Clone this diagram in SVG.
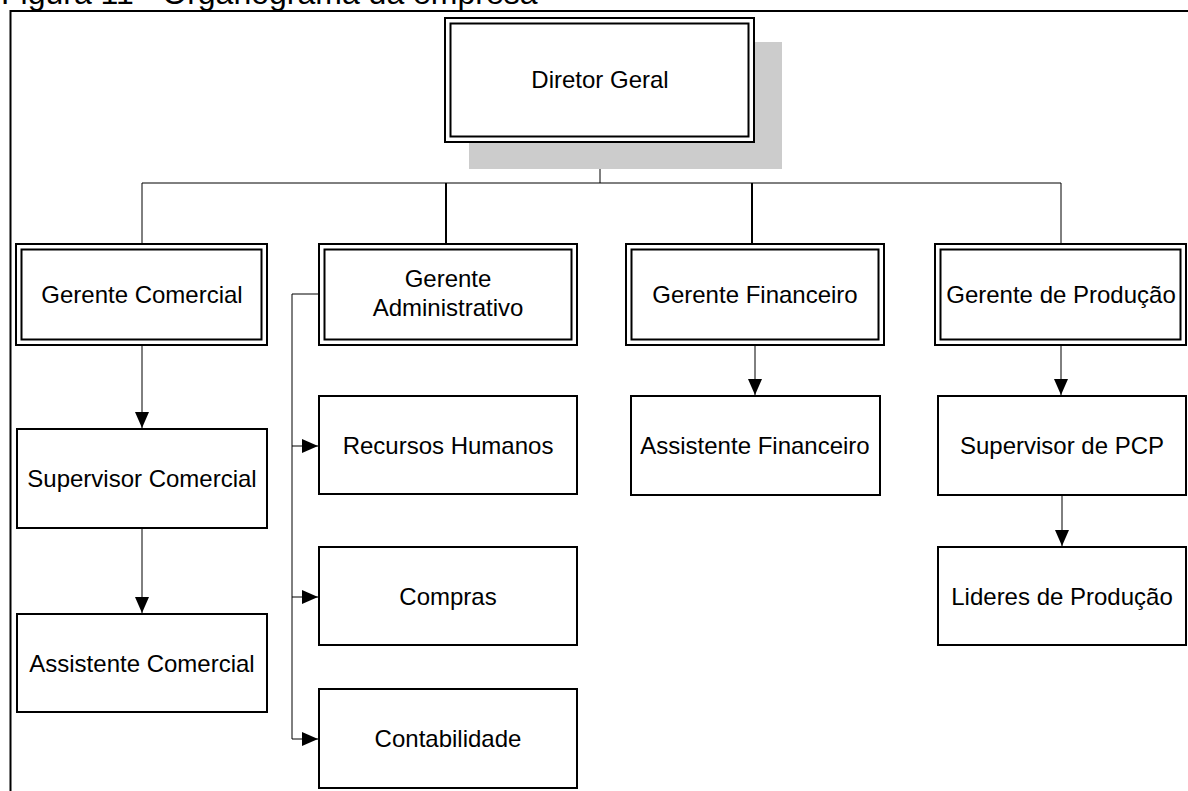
<svg xmlns="http://www.w3.org/2000/svg" width="1188" height="791" viewBox="0 0 1188 791">
<style>
text{font-family:"Liberation Sans",Arial,sans-serif;font-size:24px;fill:#000;text-anchor:middle}
.title{text-anchor:start;font-size:32px}
.box{fill:#fff;stroke:#000;stroke-width:2}
.in{fill:none;stroke:#000;stroke-width:2}
.ln{fill:none;stroke:#000;stroke-width:1}
.lnb{fill:none;stroke:#000;stroke-width:2}
.arr{fill:none;stroke:#000;stroke-width:1;marker-end:url(#ah)}
</style>
<defs>
<marker id="ah" markerUnits="userSpaceOnUse" markerWidth="16" markerHeight="14" refX="16" refY="7" orient="auto">
<path d="M0,0 L16,7 L0,14 z" fill="#000"/>
</marker>
</defs>
<rect width="1188" height="791" fill="#fff"/>
<text class="title" x="1" y="4">Figura 11 - Organograma da empresa</text>
<path d="M10.5,791 V11 H1188" fill="none" stroke="#000" stroke-width="2"/>

<g id="connectors">
<path class="ln" d="M600,143 V183"/>
<path class="ln" d="M142,183 H1061"/>
<path class="ln" d="M142,183 V244"/>
<path class="lnb" d="M446,183 V244"/>
<path class="lnb" d="M752,183 V244"/>
<path class="ln" d="M1061,183 V244"/>
<path class="arr" d="M142,345 V428"/>
<path class="arr" d="M142,529 V613"/>
<path class="arr" d="M755,345 V395"/>
<path class="arr" d="M1061,345 V395"/>
<path class="arr" d="M1062,496 V546"/>
<path class="ln" d="M318,294 H292 V739"/>
<path class="arr" d="M292,446 H318"/>
<path class="arr" d="M292,597 H318"/>
<path class="arr" d="M292,739 H318"/>
</g>

<g id="diretor-geral">
<rect x="469" y="42" width="313" height="127" fill="#cccccc"/>
<rect class="box" x="445" y="18" width="309" height="124"/>
<rect class="in" x="450.5" y="23.5" width="298" height="113"/>
<text x="600" y="88">Diretor Geral</text>
</g>

<g id="gerente-comercial">
<rect class="box" x="16" y="244" width="251" height="101"/>
<rect class="in" x="21.5" y="249.5" width="240" height="90"/>
<text x="142" y="303">Gerente Comercial</text>
</g>

<g id="gerente-administrativo">
<rect class="box" x="319" y="244" width="258" height="101"/>
<rect class="in" x="324.5" y="249.5" width="247" height="90"/>
<text x="448" y="287">Gerente</text>
<text x="448" y="316">Administrativo</text>
</g>

<g id="gerente-financeiro">
<rect class="box" x="626" y="244" width="258" height="101"/>
<rect class="in" x="631.5" y="249.5" width="247" height="90"/>
<text x="755" y="303">Gerente Financeiro</text>
</g>

<g id="gerente-producao">
<rect class="box" x="935" y="244" width="251" height="101"/>
<rect class="in" x="940.5" y="249.5" width="240" height="90"/>
<text x="1061" y="303">Gerente de Produção</text>
</g>

<g id="supervisor-comercial">
<rect class="box" x="17" y="429" width="250" height="99"/>
<text x="142" y="487">Supervisor Comercial</text>
</g>

<g id="assistente-comercial">
<rect class="box" x="17" y="614" width="250" height="98"/>
<text x="142" y="672">Assistente Comercial</text>
</g>

<g id="recursos-humanos">
<rect class="box" x="319" y="396" width="258" height="98"/>
<text x="448" y="454">Recursos Humanos</text>
</g>

<g id="compras">
<rect class="box" x="319" y="547" width="258" height="98"/>
<text x="448" y="605">Compras</text>
</g>

<g id="contabilidade">
<rect class="box" x="319" y="689" width="258" height="99"/>
<text x="448" y="747">Contabilidade</text>
</g>

<g id="assistente-financeiro">
<rect class="box" x="631" y="396" width="249" height="99"/>
<text x="755" y="454">Assistente Financeiro</text>
</g>

<g id="supervisor-pcp">
<rect class="box" x="938" y="396" width="248" height="99"/>
<text x="1062" y="454">Supervisor de PCP</text>
</g>

<g id="lideres-producao">
<rect class="box" x="938" y="547" width="248" height="98"/>
<text x="1062" y="605">Lideres de Produção</text>
</g>
</svg>
